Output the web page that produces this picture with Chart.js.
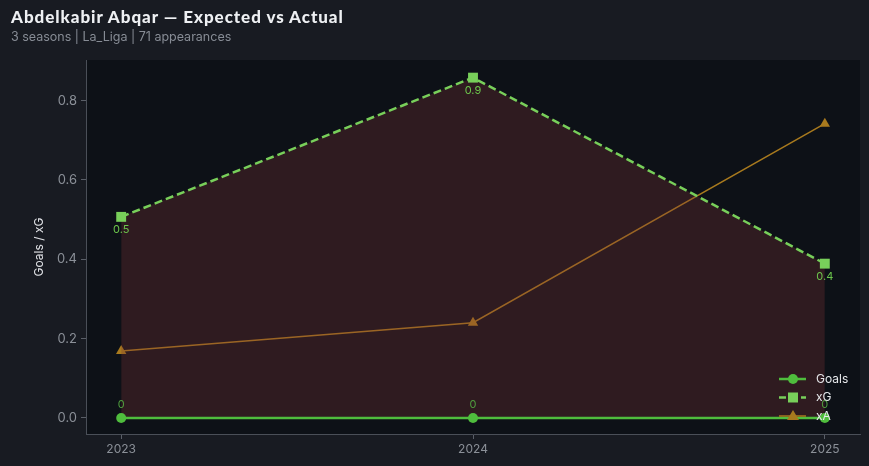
<!DOCTYPE html>
<html><head><meta charset="utf-8">
<script src="https://cdn.jsdelivr.net/npm/chart.js@4"></script>
<style>
html,body{margin:0;padding:0;background:#181b22;width:869px;height:466px;overflow:hidden;font-family:Inter,"Noto Sans",sans-serif;}
#title{position:absolute;left:11px;top:6px;font-family:Lato,"Noto Sans",sans-serif;font-weight:900;font-size:17px;color:#eef0f3;letter-spacing:0.95px;}
#sub{position:absolute;left:11px;top:29px;font-size:12.5px;color:#878c95;}
#wrap{position:absolute;left:0;top:0;width:869px;height:466px;}
</style></head><body>
<div id="wrap"><canvas id="c" width="869" height="466"></canvas></div>
<div id="title">Abdelkabir Abqar — Expected vs Actual</div>
<div id="sub">3 seasons | La_Liga | 71 appearances</div>
<script>
const seasons = [2023, 2024, 2025];
const goals = [0, 0, 0];
const xg = [0.507, 0.858, 0.389];
const xa = [0.169, 0.240, 0.742];
const xgLabels = ["0.5", "0.9", "0.4"];
const goalLabels = ["0", "0", "0"];
const yTicks = [0, 0.2, 0.4, 0.6, 0.8];

const cGoals = '#4fbd3d', cXg = '#78cf5a', cXa = '#a87a1e';
const pts = arr => arr.map((v,i)=>({x:seasons[i], y:v}));

const bgPlugin = {
  id:'bg',
  beforeDraw(chart){
    const {ctx, chartArea:a} = chart;
    ctx.save(); ctx.fillStyle='#0d1117';
    ctx.fillRect(a.left,a.top,a.right-a.left,a.bottom-a.top); ctx.restore();
  }
};
const labelPlugin = {
  id:'labels',
  afterDatasetsDraw(chart){
    const ctx = chart.ctx;
    ctx.save();
    ctx.font = '11px Inter, sans-serif';
    ctx.textAlign='center'; ctx.textBaseline='middle';
    const m1 = chart.getDatasetMeta(1);
    m1.data.forEach((p,i)=>{ ctx.fillStyle='#6cc64c'; ctx.fillText(xgLabels[i], p.x, p.y+13); });
    const m0 = chart.getDatasetMeta(0);
    m0.data.forEach((p,i)=>{ ctx.fillStyle='#4f9e3e'; ctx.fillText(goalLabels[i], p.x, p.y-13); });
    ctx.restore();
  },
  afterDraw(chart){
    const ctx = chart.ctx;
    const items = [
      {t:'Goals', c:cGoals, dash:[], w:2.5, s:'circle'},
      {t:'xG', c:cXg, dash:[7,4], w:2.5, s:'rect'},
      {t:'xA', c:cXa, dash:[], w:1.5, s:'triangle'}
    ];
    const x0=779, x1=806, xm=793, xt=816;
    let y=379;
    ctx.save();
    items.forEach(it=>{
      ctx.strokeStyle=it.c; ctx.lineWidth=it.w; ctx.setLineDash(it.dash);
      ctx.beginPath(); ctx.moveTo(x0,y); ctx.lineTo(x1,y); ctx.stroke();
      ctx.setLineDash([]);
      ctx.fillStyle=it.c;
      ctx.beginPath();
      if(it.s==='circle'){ ctx.arc(xm,y,5,0,Math.PI*2); }
      else if(it.s==='rect'){ ctx.rect(xm-5,y-5,10,10); }
      else { ctx.moveTo(xm,y-6); ctx.lineTo(xm+6,y+4); ctx.lineTo(xm-6,y+4); ctx.closePath(); }
      ctx.fill();
      ctx.fillStyle='#e6e8eb'; ctx.font='12px Inter, sans-serif';
      ctx.textAlign='left'; ctx.textBaseline='middle';
      ctx.fillText(it.t, xt, y);
      y+=18.5;
    });
    ctx.restore();
  }
};

new Chart(document.getElementById('c'), {
  type:'line',
  data:{datasets:[
    {label:'Goals', data:pts(goals), borderColor:cGoals, backgroundColor:cGoals, borderWidth:2.5,
     pointStyle:'circle', pointRadius:5, pointBackgroundColor:cGoals, pointBorderWidth:0, fill:false, tension:0},
    {label:'xG', data:pts(xg), borderColor:cXg, backgroundColor:'rgba(126,54,53,0.3)', borderWidth:2.5,
     borderDash:[8,4], pointStyle:'rect', pointRadius:7, pointBackgroundColor:cXg, pointBorderWidth:0,
     fill:{target:0}, tension:0},
    {label:'xA', data:pts(xa), borderColor:cXa, backgroundColor:cXa, borderWidth:1.5,
     pointStyle:'triangle', pointRadius:6, pointBackgroundColor:cXa, pointBorderWidth:0, fill:false, tension:0}
  ]},
  options:{
    responsive:false, animation:false, devicePixelRatio:1,
    layout:{padding:{left:28, top:60, right:9, bottom:0}},
    plugins:{legend:{display:false}, tooltip:{enabled:false}},
    scales:{
      x:{type:'linear', min:2022.9, max:2025.1,
         afterBuildTicks(s){ s.ticks = seasons.map(v=>({value:v})); },
         afterFit(s){ s.height = 32; },
         grid:{drawOnChartArea:false, color:'#5a5f68', tickLength:5, tickColor:'#5a5f68'},
         border:{color:'#4a4f58'},
         ticks:{color:'#8b9098', font:{size:12, family:'Inter'}, padding:3, callback:v=>String(v)}},
      y:{type:'linear', min:-0.0405, max:0.9025,
         afterBuildTicks(s){ s.ticks = yTicks.map(v=>({value:v})); },
         afterFit(s){ s.width = 58; },
         grid:{drawOnChartArea:false, color:'#5a5f68', tickLength:5, tickColor:'#5a5f68'},
         border:{color:'#4a4f58'},
         title:{display:true, text:'Goals / xG', color:'#e2e4e8', font:{size:12, family:'Inter'}, padding:{top:4,bottom:4}},
         ticks:{color:'#8b9098', font:{size:13, family:'Inter'}, padding:4, callback:v=>v.toFixed(1)}}
    }
  },
  plugins:[bgPlugin, labelPlugin]
});
</script>
</body></html>
